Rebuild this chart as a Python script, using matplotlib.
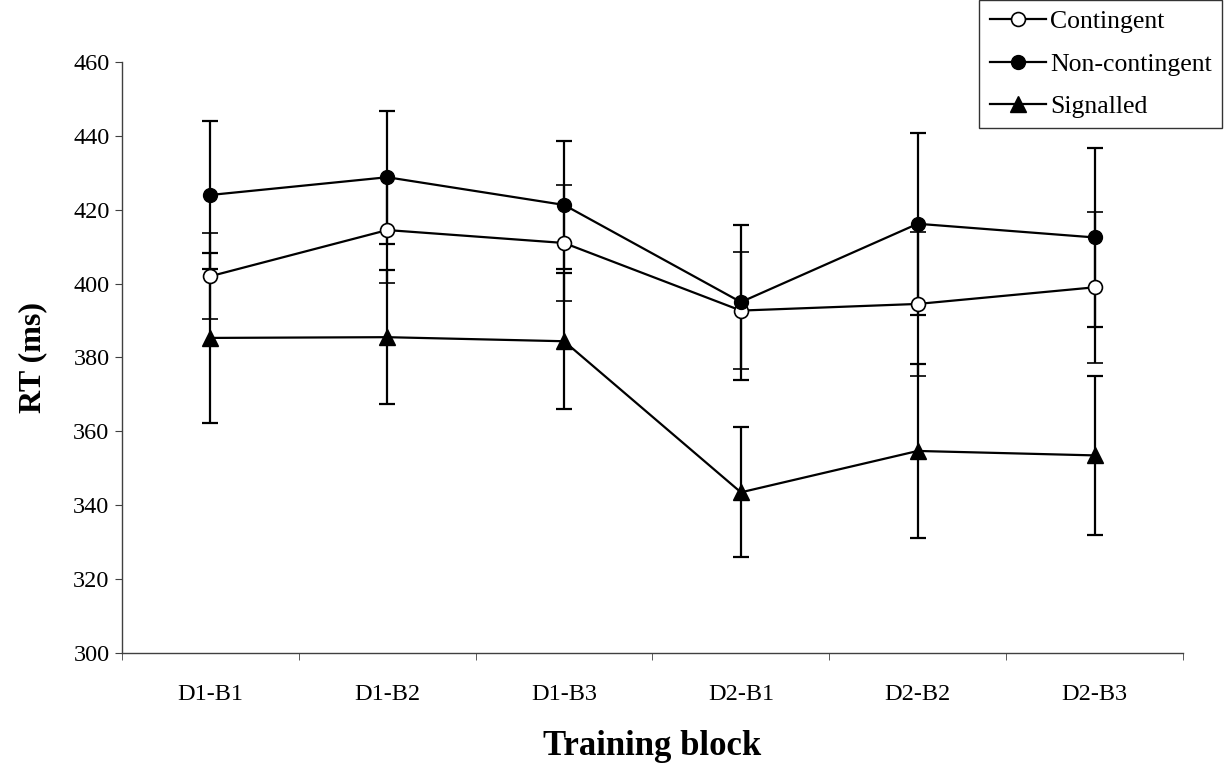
import numpy as np
import matplotlib
matplotlib.use("Agg")
import matplotlib.pyplot as plt
from matplotlib.lines import Line2D

blocks = ['D1-B1', 'D1-B2', 'D1-B3', 'D2-B1', 'D2-B2', 'D2-B3']

contingent = [402.0, 414.5, 411.0, 392.7, 394.5, 399.0]
contingent_err = [11.7, 14.2, 15.7, 15.8, 19.6, 20.5]

noncontingent = [424.0, 428.8, 421.3, 395.0, 416.2, 412.5]
noncontingent_err = [20.0, 18.0, 17.4, 21.0, 24.7, 24.3]

signalled = [385.3, 385.5, 384.4, 343.5, 354.7, 353.5]
signalled_err = [23.0, 18.2, 18.4, 17.6, 23.5, 21.5]

plt.rcParams['font.family'] = ['Liberation Serif', 'DejaVu Serif']

fig = plt.figure(figsize=(12.25, 7.67), dpi=100)
ax = fig.add_axes([0.0996, 0.1486, 0.8661, 0.7706])

x = np.arange(len(blocks))
common = dict(color='black', linewidth=1.6, elinewidth=1.6, capsize=6,
              capthick=1.6)

ax.errorbar(x, contingent, yerr=contingent_err, marker='o', markersize=10,
            markerfacecolor='white', markeredgecolor='black', markeredgewidth=1.2,
            zorder=3, **common)
ax.errorbar(x, noncontingent, yerr=noncontingent_err, marker='o', markersize=10,
            markerfacecolor='black', zorder=3, **common)
ax.errorbar(x, signalled, yerr=signalled_err, marker='^', markersize=11,
            markerfacecolor='black', zorder=3, **common)

ax.set_xlim(-0.5, len(blocks) - 0.5)
ax.set_ylim(300, 460)
ax.set_yticks(np.arange(300, 461, 20))
ax.set_xticks(x)
ax.set_xticklabels(blocks)
ax.set_xticks(np.arange(-0.5, len(blocks), 1.0), minor=True)

ax.tick_params(axis='x', which='major', length=0, pad=22, labelsize=17.5)
ax.tick_params(axis='x', which='minor', length=5, direction='out', color='#404040')
ax.tick_params(axis='y', length=5, direction='out', pad=4, labelsize=17.5, color='#404040')

for side in ['top', 'right']:
    ax.spines[side].set_visible(False)
for side in ['left', 'bottom']:
    ax.spines[side].set_color('#404040')
    ax.spines[side].set_linewidth(1.0)

ax.set_ylabel('RT (ms)', fontsize=23, fontweight='bold', labelpad=19)
ax.set_xlabel('Training block', fontsize=25, fontweight='bold', labelpad=18)

handles = [
    Line2D([], [], color='black', linewidth=1.6, marker='o', markersize=10,
           markerfacecolor='white', markeredgewidth=1.2),
    Line2D([], [], color='black', linewidth=1.6, marker='o', markersize=10,
           markerfacecolor='black'),
    Line2D([], [], color='black', linewidth=1.6, marker='^', markersize=11,
           markerfacecolor='black'),
]
labels = ['Contingent', 'Non-contingent', 'Signalled']
leg = ax.legend(handles, labels, loc='upper right', bbox_to_anchor=(1222 / 1225, 1.0),
                bbox_transform=fig.transFigure, borderaxespad=0.0, fontsize=18.5,
                frameon=True, fancybox=False, shadow=False, handlelength=2.2,
                handletextpad=0.15, labelspacing=0.75, borderpad=0.4)
leg.get_frame().set_edgecolor('black')
leg.get_frame().set_linewidth(1.0)

fig.savefig('out.png', dpi=100)
